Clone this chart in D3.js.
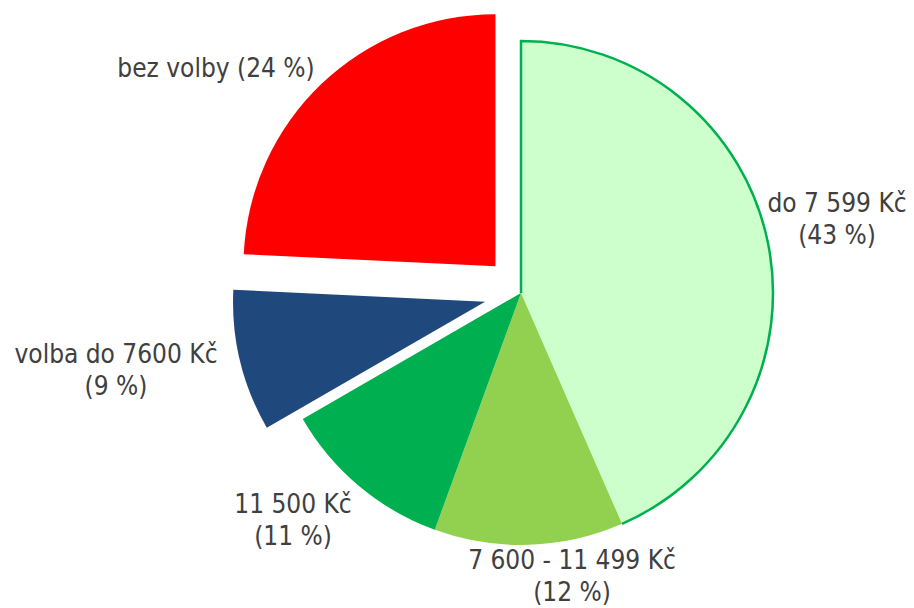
<!DOCTYPE html>
<html>
<head>
<meta charset="utf-8">
<script src="https://cdn.jsdelivr.net/npm/d3@7"></script>
<style>
  body { margin: 0; background: #fff; }
  svg { display: block; }
  text { font-family: "DejaVu Sans Condensed", "Liberation Sans", sans-serif; fill: #404040; }
</style>
</head>
<body>
<svg width="914" height="608"></svg>
<script>
var categories = ["do 7 599 Kč", "7 600 - 11 499 Kč", "11 500 Kč", "volba do 7600 Kč", "bez volby"];
var values = [43, 12, 11, 9, 24];
var colors = ["#CCFFCC", "#92D050", "#00B050", "#1F497D", "#FF0000"];
var exploded = [0, 0, 0, 37, 37];

// label boxes (centre x, first baseline y) and line breaks
var labelLines = [
	["do 7 599 Kč", "(43 %)"],
	["7 600 - 11 499 Kč", "(12 %)"],
	["11 500 Kč", "(11 %)"],
	["volba do 7600 Kč", "(9 %)"],
	["bez volby (24 %)"]
];
var labelAt = [[837, 212], [572, 569], [293, 513], [116, 363], [216, 77]];

var cx = 521, cy = 293, radius = 252;

var svg = d3.select("svg");
var g = svg.append("g").attr("transform", "translate(" + cx + "," + cy + ")");

var pie = d3.pie().sort(null).value(function (d) { return d; });
var arc = d3.arc().innerRadius(0).outerRadius(radius);
var slices = pie(values);

slices.forEach(function (d, i) {
	var mid = (d.startAngle + d.endAngle) / 2;
	var dx = Math.sin(mid) * exploded[i];
	var dy = -Math.cos(mid) * exploded[i];
	g.append("path")
		.attr("d", arc(d))
		.attr("transform", "translate(" + dx + "," + dy + ")")
		.attr("fill", colors[i]);
});

// outline of the first slice: left edge and outer rim only
var s0 = slices[0];
var p = d3.path();
p.moveTo(0, 0);
p.lineTo(0, -radius);
p.arc(0, 0, radius, s0.startAngle - Math.PI / 2, s0.endAngle - Math.PI / 2);
g.append("path")
	.attr("d", p.toString())
	.attr("fill", "none")
	.attr("stroke", "#00B050")
	.attr("stroke-width", 2.5);

labelLines.forEach(function (lines, i) {
	var t = svg.append("text")
		.attr("text-anchor", "middle")
		.attr("font-size", "26px");
	lines.forEach(function (line, j) {
		t.append("tspan")
			.attr("x", labelAt[i][0])
			.attr("y", labelAt[i][1] + j * 32)
			.text(line);
	});
});
</script>
</body>
</html>
